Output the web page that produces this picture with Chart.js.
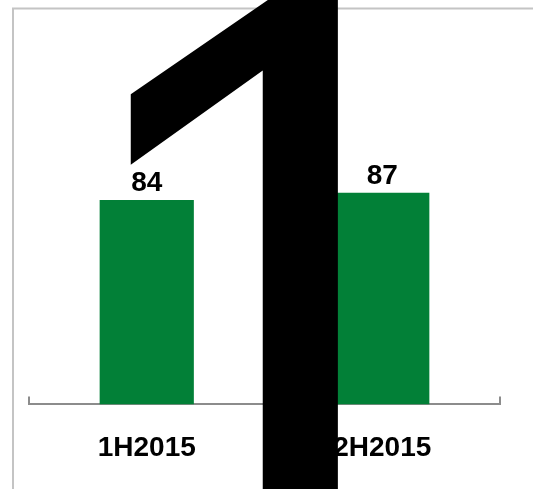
<!DOCTYPE html>
<html>
<head>
<meta charset="utf-8">
<script src="https://cdn.jsdelivr.net/npm/chart.js@4/dist/chart.umd.min.js"></script>
<style>
  html, body { margin: 0; padding: 0; background: #ffffff; }
  #wrap { position: relative; width: 533px; height: 489px; overflow: hidden; }
  #bigMark {
    position: absolute;
    left: 49px;
    top: -135px;
    margin: 0;
    font-family: "Liberation Sans", Arial, sans-serif;
    font-weight: normal;
    font-size: 850px;
    line-height: 1;
    color: #000000;
    white-space: nowrap;
    pointer-events: none;
  }
</style>
</head>
<body>
<div id="wrap">
  <canvas id="chart" width="533" height="489"></canvas>
  <div id="bigMark">1</div>
</div>
<script>
"use strict";

const periods = ["1H2015", "2H2015"];
const scores = [84, 87];

const barGreen = "#028037";
const axisGrey = "#8c8c8c";

// light frame around the plot, cut off by the window on the right and bottom
const framePlugin = {
  id: "frame",
  beforeDraw(chart) {
    const ctx = chart.ctx;
    ctx.save();
    ctx.strokeStyle = "#c4c4c4";
    ctx.lineWidth = 2;
    ctx.strokeRect(13, 8.5, chart.width + 20, chart.height + 20);
    ctx.restore();
  }
};

// short upward tick marks at the category edges
const edgeTicksPlugin = {
  id: "edgeTicks",
  afterDraw(chart) {
    const x = chart.scales.x;
    const ctx = chart.ctx;
    const step = (x.right - x.left) / periods.length;
    ctx.save();
    ctx.strokeStyle = axisGrey;
    ctx.lineWidth = 2;
    for (let i = 0; i <= periods.length; i++) {
      const px = Math.round(x.left + i * step);
      ctx.beginPath();
      ctx.moveTo(px, x.top - 8);
      ctx.lineTo(px, x.top);
      ctx.stroke();
    }
    ctx.restore();
  }
};

const valueLabelPlugin = {
  id: "valueLabels",
  afterDatasetsDraw(chart) {
    const ctx = chart.ctx;
    const meta = chart.getDatasetMeta(0);
    ctx.save();
    ctx.fillStyle = "#000000";
    ctx.font = "bold 28px 'Liberation Sans', Arial, sans-serif";
    ctx.textAlign = "center";
    ctx.textBaseline = "alphabetic";
    meta.data.forEach((bar, i) => {
      ctx.fillText(String(scores[i]), bar.x, bar.y - 9);
    });
    ctx.restore();
  }
};

new Chart(document.getElementById("chart"), {
  type: "bar",
  data: {
    labels: periods,
    datasets: [
      {
        data: scores,
        backgroundColor: barGreen,
        borderWidth: 0,
        barPercentage: 0.4,
        categoryPercentage: 1
      }
    ]
  },
  options: {
    responsive: false,
    animation: false,
    layout: { padding: { left: 29, right: 33, top: 161, bottom: 5 } },
    plugins: {
      legend: { display: false },
      tooltip: { enabled: false }
    },
    scales: {
      x: {
        grid: { display: false },
        border: { display: true, color: axisGrey, width: 2 },
        ticks: {
          color: "#000000",
          padding: 19,
          font: { family: "'Liberation Sans', Arial, sans-serif", size: 28, weight: "bold" }
        }
      },
      y: {
        display: false,
        min: 0,
        max: 100
      }
    }
  },
  plugins: [framePlugin, valueLabelPlugin, edgeTicksPlugin]
});
</script>
</body>
</html>
